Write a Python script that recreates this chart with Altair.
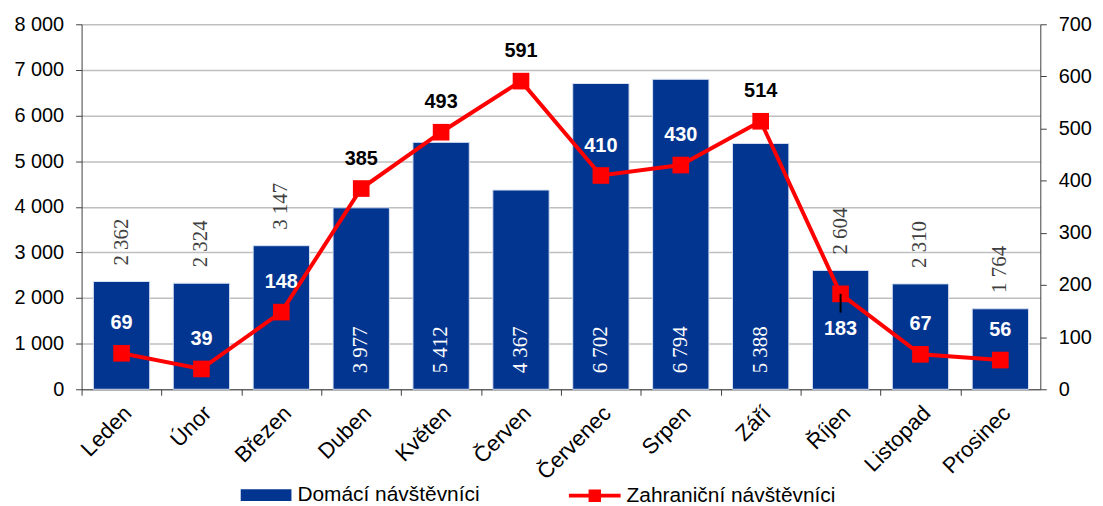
import altair as alt
import pandas as pd
import numpy as np

# ---------------- data ----------------
months = ["Leden", "Únor", "Březen", "Duben", "Květen", "Červen",
          "Červenec", "Srpen", "Září", "Říjen", "Listopad", "Prosinec"]
domestic = [2362, 2324, 3147, 3977, 5412, 4367, 6702, 6794, 5388, 2604, 2310, 1764]
foreign = [69, 39, 148, 385, 493, 591, 410, 430, 514, 183, 67, 56]
series_names = ["Domácí návštěvníci", "Zahraniční návštěvníci"]
left_ticks = [0, 1000, 2000, 3000, 4000, 5000, 6000, 7000, 8000]
right_ticks = [0, 100, 200, 300, 400, 500, 600, 700]
leader_month = ["Říjen"]
leader_from = [183]
leader_to = [147]

LEFT_MAX = 8000
RIGHT_MAX = 700
BLUE = "#023590"
RED = "#FF0000"
FONT = "Liberation Sans"
AXIS_COL = "#404040"

df = pd.DataFrame({"month": months, "domestic": domestic, "foreign": foreign})
df["dom_label"] = [f"{v:,}".replace(",", " ") for v in domestic]
df["dom_inside"] = df["domestic"] > 3500
df["dom_series"] = series_names[0]
df["for_series"] = series_names[1]
bar_frac = df["domestic"] / LEFT_MAX
line_frac = df["foreign"] / RIGHT_MAX
df["pos"] = np.where(line_frac + 0.1 < bar_frac, "inside",
                     np.where(line_frac > bar_frac, "above", "below"))

leader_df = pd.DataFrame({"month": leader_month, "lfrom": leader_from, "lto": leader_to})

# ---------------- encodings ----------------
x_enc = alt.X(
    "month:N", sort=months,
    scale=alt.Scale(paddingInner=0.295, paddingOuter=0.1475),
    axis=alt.Axis(title=None, labelAngle=-45, labelFont=FONT, labelFontSize=22,
                  labelColor="black", domainColor=AXIS_COL, tickColor=AXIS_COL,
                  tickSize=6, tickOffset=-40.17, labelOffset=39, labelPadding=7,
                  grid=False),
)

y_left_scale = alt.Scale(domain=[0, LEFT_MAX], nice=False)
y_right_scale = alt.Scale(domain=[0, RIGHT_MAX], nice=False)

left_axis = alt.Axis(
    title=None, values=left_ticks,
    labelExpr="replace(format(datum.value, ','), ',', ' ')",
    labelFont=FONT, labelFontSize=20, labelColor="black", labelPadding=12,
    tickSize=6, tickColor=AXIS_COL, domainColor=AXIS_COL,
    grid=True, gridColor="#BFBFBF", gridWidth=1.6,
)
right_axis = alt.Axis(
    title=None, orient="right", values=right_ticks,
    labelFont=FONT, labelFontSize=20, labelColor="black", labelPadding=12,
    tickSize=6, tickColor=AXIS_COL, domainColor=AXIS_COL, grid=False,
)

base = alt.Chart(df)

bars = base.mark_bar(stroke="#D9E1F2", strokeWidth=1).encode(
    x=x_enc,
    y=alt.Y("domestic:Q", scale=y_left_scale, axis=left_axis),
    fill=alt.Fill(
        "dom_series:N",
        scale=alt.Scale(domain=[series_names[0]], range=[BLUE]),
        legend=alt.Legend(
            title=None, orient="none", legendX=160, legendY=448,
            symbolType="M-1,-0.23H1V0.23H-1Z", symbolSize=2601,
            symbolStrokeWidth=0, labelFont=FONT, labelFontSize=21,
            labelColor="black", labelOffset=6, padding=0, labelLimit=400,
        ),
    ),
)

bar_lab_out = base.transform_filter("!datum.dom_inside").mark_text(
    angle=270, align="left", baseline="middle", dx=16,
    font="Liberation Sans Narrow", fontSize=21, color="#404040",
).encode(x=x_enc, y=alt.Y("domestic:Q", scale=y_left_scale, axis=left_axis),
         text="dom_label:N")

bar_lab_in = base.transform_filter("datum.dom_inside").mark_text(
    angle=270, align="left", baseline="middle", dx=16,
    font="Liberation Sans Narrow", fontSize=21, color="white",
).encode(x=x_enc, y=alt.datum(0), text="dom_label:N")

left = alt.layer(bars, bar_lab_out, bar_lab_in)

y_r = alt.Y("foreign:Q", scale=y_right_scale, axis=right_axis)

line = base.mark_line(color=RED, strokeWidth=4).encode(x=x_enc, y=y_r)

points = base.mark_point(shape="square", filled=True, size=280, opacity=1).encode(
    x=x_enc, y=y_r,
    color=alt.Color(
        "for_series:N",
        scale=alt.Scale(domain=[series_names[1]], range=[RED]),
        legend=alt.Legend(
            title=None, orient="none", legendX=490, legendY=448,
            symbolType="M-1,-0.07H1V0.07H-1Z M-0.24,-0.24H0.24V0.24H-0.24Z",
            symbolSize=2704, symbolStrokeWidth=0, labelFont=FONT,
            labelFontSize=21, labelColor="black", labelOffset=6, padding=0,
            labelLimit=400,
        ),
    ),
)

leader = alt.Chart(leader_df).mark_rule(color="black", strokeWidth=2).encode(
    x=x_enc,
    y=alt.Y("lfrom:Q", scale=y_right_scale, axis=right_axis),
    y2="lto:Q",
)

def line_labels(pos, color, dy):
    return base.transform_filter(f"datum.pos == '{pos}'").mark_text(
        font=FONT, fontWeight="bold", fontSize=20, color=color,
        baseline="middle", dy=dy,
    ).encode(x=x_enc, y=y_r, text="foreign:Q")

right = alt.layer(
    line, points, leader,
    line_labels("above", "black", -30),
    line_labels("inside", "white", -30),
    line_labels("below", "white", 35),
)

chart = alt.layer(left, right).resolve_scale(y="independent").properties(
    width=964, height=367,
    padding={"left": 74, "top": 15, "right": 55, "bottom": 116},
    autosize=alt.AutoSizeParams(type="none"),
).configure_view(stroke=None)

chart.save("out.html", embed_options={"renderer": "svg", "actions": False})
